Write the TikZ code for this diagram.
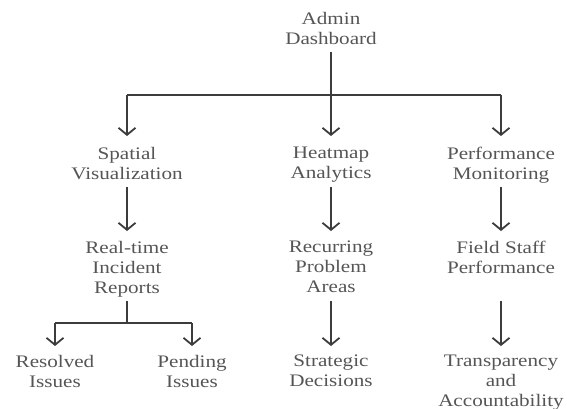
\documentclass[tikz,border=0pt]{standalone}
\usepackage{fontspec}
\setmainfont{Liberation Serif}[FakeStretch=1.2]
\usetikzlibrary{arrows.meta}
\definecolor{txt}{HTML}{555555}
\definecolor{ln}{HTML}{3C3C3C}
\tikzset{
  lbl/.style={inner sep=0pt, anchor=north, align=center, text=txt,
    font=\fontsize{17.6pt}{20pt}\selectfont},
  conn/.style={draw=ln, line width=1.8pt},
  arr/.style={conn, -{Straight Barb[length=7pt,width=17pt,line width=1.8pt]}}
}
\begin{document}
\begin{tikzpicture}[x=1pt,y=-1pt]
\useasboundingbox (0,0) rectangle (567,408);
% levels
\coordinate (L0b) at (0,52);
\coordinate (J1) at (0,95);
\coordinate (T1) at (0,136);
\coordinate (L1b) at (0,187);
\coordinate (T2) at (0,231);
\coordinate (L2b) at (0,301);
\coordinate (J2) at (0,323);
\coordinate (T3) at (0,346);
% nodes
\node[lbl] (admin) at (331,12) {Admin\\Dashboard};
\node[lbl] (spatial) at (127,147) {Spatial\\Visualization};
\node[lbl] (heat) at (331,147) {Heatmap\\Analytics};
\node[lbl] (perf) at (501,147) {Performance\\Monitoring};
\node[lbl] (real) at (127,241) {Real-time\\Incident\\Reports};
\node[lbl] (recur) at (331,241) {Recurring\\Problem\\Areas};
\node[lbl] (field) at (501,241) {Field Staff\\Performance};
\node[lbl] (resolved) at (55,355) {Resolved\\Issues};
\node[lbl] (pending) at (192,355) {Pending\\Issues};
\node[lbl] (strat) at (331,355) {Strategic\\Decisions};
\node[lbl] (transp) at (501,355) {Transparency\\and\\Accountability};
% connectors
\draw[conn] (admin |- L0b) -- (admin |- J1);
\draw[conn] (spatial |- J1) -- (perf |- J1);
\draw[arr] (spatial |- J1) -- (spatial |- T1);
\draw[arr] (heat |- J1) -- (heat |- T1);
\draw[arr] (perf |- J1) -- (perf |- T1);
\draw[arr] (spatial |- L1b) -- (real |- T2);
\draw[arr] (heat |- L1b) -- (recur |- T2);
\draw[arr] (perf |- L1b) -- (field |- T2);
\draw[conn] (real |- L2b) -- (real |- J2);
\draw[conn] (resolved |- J2) -- (pending |- J2);
\draw[arr] (resolved |- J2) -- (resolved |- T3);
\draw[arr] (pending |- J2) -- (pending |- T3);
\draw[arr] (recur |- L2b) -- (strat |- T3);
\draw[arr] (field |- L2b) -- (transp |- T3);
\end{tikzpicture}
\end{document}
